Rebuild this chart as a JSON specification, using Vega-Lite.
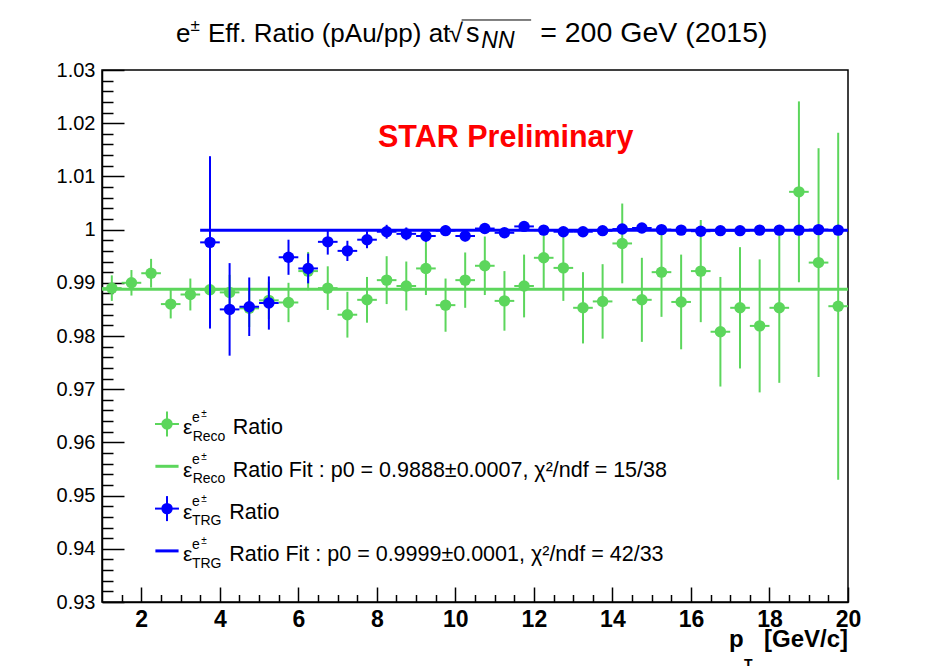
{
  "$schema": "https://vega.github.io/schema/vega-lite/v6.json",
  "width": 746,
  "height": 532,
  "autosize": {"type": "none"},
  "padding": {"left": 102, "top": 70, "right": 80, "bottom": 64},
  "background": "white",
  "config": {
    "font": "Liberation Sans",
    "view": {"stroke": "#000", "strokeWidth": 1.5},
    "text": {"font": "Liberation Sans", "color": "#000", "baseline": "alphabetic", "align": "left"}
  },
  "datasets": {
    "reco": [
      {"pt": 1.25, "ratio": 0.9890, "err": 0.0024, "dpt": 0.25},
      {"pt": 1.75, "ratio": 0.9900, "err": 0.0024, "dpt": 0.25},
      {"pt": 2.25, "ratio": 0.9918, "err": 0.0027, "dpt": 0.25},
      {"pt": 2.75, "ratio": 0.9860, "err": 0.0027, "dpt": 0.25},
      {"pt": 3.25, "ratio": 0.9878, "err": 0.0030, "dpt": 0.25},
      {"pt": 3.75, "ratio": 0.9887, "err": 0.0031, "dpt": 0.25},
      {"pt": 4.25, "ratio": 0.9882, "err": 0.0033, "dpt": 0.25},
      {"pt": 4.75, "ratio": 0.9852, "err": 0.0035, "dpt": 0.25},
      {"pt": 5.25, "ratio": 0.9867, "err": 0.0035, "dpt": 0.25},
      {"pt": 5.75, "ratio": 0.9863, "err": 0.0037, "dpt": 0.25},
      {"pt": 6.25, "ratio": 0.9922, "err": 0.0036, "dpt": 0.25},
      {"pt": 6.75, "ratio": 0.9890, "err": 0.0041, "dpt": 0.25},
      {"pt": 7.25, "ratio": 0.9840, "err": 0.0043, "dpt": 0.25},
      {"pt": 7.75, "ratio": 0.9868, "err": 0.0043, "dpt": 0.25},
      {"pt": 8.25, "ratio": 0.9905, "err": 0.0045, "dpt": 0.25},
      {"pt": 8.75, "ratio": 0.9894, "err": 0.0046, "dpt": 0.25},
      {"pt": 9.25, "ratio": 0.9927, "err": 0.0050, "dpt": 0.25},
      {"pt": 9.75, "ratio": 0.9858, "err": 0.0050, "dpt": 0.25},
      {"pt": 10.25, "ratio": 0.9905, "err": 0.0052, "dpt": 0.25},
      {"pt": 10.75, "ratio": 0.9932, "err": 0.0055, "dpt": 0.25},
      {"pt": 11.25, "ratio": 0.9866, "err": 0.0056, "dpt": 0.25},
      {"pt": 11.75, "ratio": 0.9894, "err": 0.0059, "dpt": 0.25},
      {"pt": 12.25, "ratio": 0.9947, "err": 0.0060, "dpt": 0.25},
      {"pt": 12.75, "ratio": 0.9928, "err": 0.0062, "dpt": 0.25},
      {"pt": 13.25, "ratio": 0.9853, "err": 0.0067, "dpt": 0.25},
      {"pt": 13.75, "ratio": 0.9865, "err": 0.0070, "dpt": 0.25},
      {"pt": 14.25, "ratio": 0.9974, "err": 0.0075, "dpt": 0.25},
      {"pt": 14.75, "ratio": 0.9868, "err": 0.0079, "dpt": 0.25},
      {"pt": 15.25, "ratio": 0.9920, "err": 0.0084, "dpt": 0.25},
      {"pt": 15.75, "ratio": 0.9864, "err": 0.0089, "dpt": 0.25},
      {"pt": 16.25, "ratio": 0.9922, "err": 0.0096, "dpt": 0.25},
      {"pt": 16.75, "ratio": 0.9808, "err": 0.0103, "dpt": 0.25},
      {"pt": 17.25, "ratio": 0.9853, "err": 0.0114, "dpt": 0.25},
      {"pt": 17.75, "ratio": 0.9819, "err": 0.0125, "dpt": 0.25},
      {"pt": 18.25, "ratio": 0.9853, "err": 0.0141, "dpt": 0.25},
      {"pt": 18.75, "ratio": 1.0071, "err": 0.0170, "dpt": 0.25},
      {"pt": 19.25, "ratio": 0.9938, "err": 0.0215, "dpt": 0.25},
      {"pt": 19.75, "ratio": 0.9856, "err": 0.0326, "dpt": 0.25}
    ],
    "trg": [
      {"pt": 3.75, "ratio": 0.9976, "err": 0.0162, "dpt": 0.25},
      {"pt": 4.25, "ratio": 0.9850, "err": 0.0087, "dpt": 0.25},
      {"pt": 4.75, "ratio": 0.9855, "err": 0.0055, "dpt": 0.25},
      {"pt": 5.25, "ratio": 0.9862, "err": 0.0050, "dpt": 0.25},
      {"pt": 5.75, "ratio": 0.9948, "err": 0.0033, "dpt": 0.25},
      {"pt": 6.25, "ratio": 0.9927, "err": 0.0028, "dpt": 0.25},
      {"pt": 6.75, "ratio": 0.9977, "err": 0.0024, "dpt": 0.25},
      {"pt": 7.25, "ratio": 0.9960, "err": 0.0019, "dpt": 0.25},
      {"pt": 7.75, "ratio": 0.9981, "err": 0.0016, "dpt": 0.25},
      {"pt": 8.25, "ratio": 0.9996, "err": 0.0013, "dpt": 0.25},
      {"pt": 8.75, "ratio": 0.9992, "err": 0.0012, "dpt": 0.25},
      {"pt": 9.25, "ratio": 0.9988, "err": 0.0011, "dpt": 0.25},
      {"pt": 9.75, "ratio": 0.9998, "err": 0.0010, "dpt": 0.25},
      {"pt": 10.25, "ratio": 0.9988, "err": 0.0010, "dpt": 0.25},
      {"pt": 10.75, "ratio": 1.0002, "err": 0.0010, "dpt": 0.25},
      {"pt": 11.25, "ratio": 0.9994, "err": 0.0009, "dpt": 0.25},
      {"pt": 11.75, "ratio": 1.0006, "err": 0.0008, "dpt": 0.25},
      {"pt": 12.25, "ratio": 0.9999, "err": 0.0008, "dpt": 0.25},
      {"pt": 12.75, "ratio": 0.9996, "err": 0.0007, "dpt": 0.25},
      {"pt": 13.25, "ratio": 0.9996, "err": 0.0007, "dpt": 0.25},
      {"pt": 13.75, "ratio": 0.9998, "err": 0.0006, "dpt": 0.25},
      {"pt": 14.25, "ratio": 1.0001, "err": 0.0006, "dpt": 0.25},
      {"pt": 14.75, "ratio": 1.0003, "err": 0.0006, "dpt": 0.25},
      {"pt": 15.25, "ratio": 1.0000, "err": 0.0005, "dpt": 0.25},
      {"pt": 15.75, "ratio": 0.9999, "err": 0.0005, "dpt": 0.25},
      {"pt": 16.25, "ratio": 0.9997, "err": 0.0005, "dpt": 0.25},
      {"pt": 16.75, "ratio": 0.9998, "err": 0.0005, "dpt": 0.25},
      {"pt": 17.25, "ratio": 0.9998, "err": 0.0004, "dpt": 0.25},
      {"pt": 17.75, "ratio": 0.9999, "err": 0.0004, "dpt": 0.25},
      {"pt": 18.25, "ratio": 0.9999, "err": 0.0004, "dpt": 0.25},
      {"pt": 18.75, "ratio": 0.9999, "err": 0.0004, "dpt": 0.25},
      {"pt": 19.25, "ratio": 1.0000, "err": 0.0004, "dpt": 0.25},
      {"pt": 19.75, "ratio": 0.9999, "err": 0.0004, "dpt": 0.25}
    ],
    "fits": [
      {"fit": "Reco", "p0": 0.9888, "lo": 1.0, "hi": 20.0},
      {"fit": "TRG", "p0": 0.9999, "lo": 3.5, "hi": 20.0}
    ]
  },
  "resolve": {"axis": {"x": "independent", "y": "independent"}},
  "layer": [
    {
      "data": {"name": "reco"},
      "mark": {"type": "errorbar", "color": "#5cd65c", "thickness": 2},
      "encoding": {
        "x": {"field": "pt", "type": "quantitative",
              "scale": {"domain": [1, 20], "nice": false, "zero": false},
              "axis": {"orient": "bottom", "values": [2, 4, 6, 8, 10, 12, 14, 16, 18, 20], "format": "d",
                       "ticks": false, "tickSize": 0, "grid": false, "title": null,
                       "domain": true, "domainColor": "#000", "domainWidth": 1.5,
                       "labelFont": "Liberation Sans", "labelFontSize": 23, "labelFontWeight": "bold",
                       "labelColor": "#000", "labelPadding": 6, "labelOverlap": false, "labelFlush": false}},
        "y": {"field": "ratio", "type": "quantitative",
              "scale": {"domain": [0.93, 1.03], "nice": false, "zero": false},
              "axis": {"orient": "left", "values": [0.93, 0.94, 0.95, 0.96, 0.97, 0.98, 0.99, 1.0, 1.01, 1.02, 1.03],
                       "format": ".3~g", "ticks": false, "tickSize": 0, "grid": false, "title": null,
                       "domain": true, "domainColor": "#000", "domainWidth": 1.5,
                       "labelFont": "Liberation Sans", "labelFontSize": 20, "labelColor": "#000",
                       "labelPadding": 7, "labelOverlap": false, "labelFlush": false}},
        "yError": {"field": "err"}
      }
    },
    {
      "data": {"name": "reco"},
      "mark": {"type": "errorbar", "color": "#5cd65c", "thickness": 2},
      "encoding": {
        "x": {"field": "pt", "type": "quantitative",
              "axis": {"orient": "bottom", "values": [2, 4, 6, 8, 10, 12, 14, 16, 18, 20],
                       "labels": false, "domain": false, "grid": false, "title": null,
                       "ticks": true, "tickSize": -15, "tickColor": "#000", "tickWidth": 1.5}},
        "xError": {"field": "dpt"},
        "y": {"field": "ratio", "type": "quantitative",
              "axis": {"orient": "left", "values": [0.93, 0.94, 0.95, 0.96, 0.97, 0.98, 0.99, 1.0, 1.01, 1.02, 1.03],
                       "labels": false, "domain": false, "grid": false, "title": null,
                       "ticks": true, "tickSize": -22, "tickColor": "#000", "tickWidth": 1.5}}
      }
    },
    {
      "data": {"name": "reco"},
      "mark": {"type": "circle", "color": "#5cd65c", "opacity": 1, "size": 130},
      "encoding": {
        "x": {"field": "pt", "type": "quantitative",
              "axis": {"orient": "bottom",
                       "values": [1.5, 2.5, 3, 3.5, 4.5, 5, 5.5, 6.5, 7, 7.5, 8.5, 9, 9.5, 10.5, 11, 11.5, 12.5, 13, 13.5, 14.5, 15, 15.5, 16.5, 17, 17.5, 18.5, 19, 19.5],
                       "labels": false, "domain": false, "grid": false, "title": null,
                       "ticks": true, "tickSize": -7.5, "tickColor": "#000", "tickWidth": 1.5}},
        "y": {"field": "ratio", "type": "quantitative",
              "axis": {"orient": "left",
                       "values": [0.932, 0.934, 0.936, 0.938, 0.942, 0.944, 0.946, 0.948, 0.952, 0.954, 0.956, 0.958, 0.962, 0.964, 0.966, 0.968, 0.972, 0.974, 0.976, 0.978, 0.982, 0.984, 0.986, 0.988, 0.992, 0.994, 0.996, 0.998, 1.002, 1.004, 1.006, 1.008, 1.012, 1.014, 1.016, 1.018, 1.022, 1.024, 1.026, 1.028],
                       "labels": false, "domain": false, "grid": false, "title": null,
                       "ticks": true, "tickSize": -11, "tickColor": "#000", "tickWidth": 1.5}}
      }
    },
    {
      "data": {"name": "fits"},
      "transform": [{"filter": "datum.fit == 'Reco'"}],
      "mark": {"type": "rule", "color": "#5cd65c", "strokeWidth": 3},
      "encoding": {
        "x": {"field": "lo", "type": "quantitative", "axis": null},
        "x2": {"field": "hi"},
        "y": {"field": "p0", "type": "quantitative", "axis": null}
      }
    },
    {
      "data": {"name": "trg"},
      "mark": {"type": "errorbar", "color": "#0000ff", "thickness": 2},
      "encoding": {
        "x": {"field": "pt", "type": "quantitative", "axis": null},
        "y": {"field": "ratio", "type": "quantitative", "axis": null},
        "yError": {"field": "err"}
      }
    },
    {
      "data": {"name": "trg"},
      "mark": {"type": "errorbar", "color": "#0000ff", "thickness": 2},
      "encoding": {
        "x": {"field": "pt", "type": "quantitative", "axis": null},
        "xError": {"field": "dpt"},
        "y": {"field": "ratio", "type": "quantitative", "axis": null}
      }
    },
    {
      "data": {"name": "trg"},
      "mark": {"type": "circle", "color": "#0000ff", "opacity": 1, "size": 130},
      "encoding": {
        "x": {"field": "pt", "type": "quantitative", "axis": null},
        "y": {"field": "ratio", "type": "quantitative", "axis": null}
      }
    },
    {
      "data": {"name": "fits"},
      "transform": [{"filter": "datum.fit == 'TRG'"}],
      "mark": {"type": "rule", "color": "#0000ff", "strokeWidth": 3},
      "encoding": {
        "x": {"field": "lo", "type": "quantitative", "axis": null},
        "x2": {"field": "hi"},
        "y": {"field": "p0", "type": "quantitative", "axis": null}
      }
    },
    {
      "data": {"values": [{}]},
      "mark": {"type": "rule", "color": "#5cd65c", "strokeWidth": 2},
      "encoding": {
        "x": {"datum": 2.656, "type": "quantitative", "axis": null},
        "y": {"datum": 0.96111, "type": "quantitative", "axis": null},
        "y2": {"datum": 0.96581}
      }
    },
    {
      "data": {"values": [{}]},
      "mark": {"type": "rule", "color": "#5cd65c", "strokeWidth": 2},
      "encoding": {
        "x": {"datum": 2.35, "type": "quantitative", "axis": null},
        "x2": {"datum": 2.96},
        "y": {"datum": 0.963459, "type": "quantitative", "axis": null}
      }
    },
    {
      "data": {"values": [{}]},
      "mark": {"type": "circle", "color": "#5cd65c", "opacity": 1, "size": 130},
      "encoding": {
        "x": {"datum": 2.656, "type": "quantitative", "axis": null},
        "y": {"datum": 0.963459, "type": "quantitative", "axis": null}
      }
    },
    {
      "data": {"values": [{}]},
      "mark": {"type": "rule", "color": "#5cd65c", "strokeWidth": 3},
      "encoding": {
        "x": {"datum": 2.36, "type": "quantitative", "axis": null},
        "x2": {"datum": 2.95},
        "y": {"datum": 0.955508, "type": "quantitative", "axis": null}
      }
    },
    {
      "data": {"values": [{}]},
      "mark": {"type": "rule", "color": "#0000ff", "strokeWidth": 2},
      "encoding": {
        "x": {"datum": 2.656, "type": "quantitative", "axis": null},
        "y": {"datum": 0.945206, "type": "quantitative", "axis": null},
        "y2": {"datum": 0.949906}
      }
    },
    {
      "data": {"values": [{}]},
      "mark": {"type": "rule", "color": "#0000ff", "strokeWidth": 2},
      "encoding": {
        "x": {"datum": 2.35, "type": "quantitative", "axis": null},
        "x2": {"datum": 2.96},
        "y": {"datum": 0.947556, "type": "quantitative", "axis": null}
      }
    },
    {
      "data": {"values": [{}]},
      "mark": {"type": "circle", "color": "#0000ff", "opacity": 1, "size": 130},
      "encoding": {
        "x": {"datum": 2.656, "type": "quantitative", "axis": null},
        "y": {"datum": 0.947556, "type": "quantitative", "axis": null}
      }
    },
    {
      "data": {"values": [{}]},
      "mark": {"type": "rule", "color": "#0000ff", "strokeWidth": 3},
      "encoding": {
        "x": {"datum": 2.36, "type": "quantitative", "axis": null},
        "x2": {"datum": 2.95},
        "y": {"datum": 0.939605, "type": "quantitative", "axis": null}
      }
    },
    {
      "data": {"values": [{}]},
      "mark": {"type": "text", "text": ["ε", "ε", "ε", "ε"], "fontSize": 21, "lineHeight": 42.3},
      "encoding": {
        "x": {"datum": 3.063, "type": "quantitative", "axis": null},
        "y": {"datum": 0.961523, "type": "quantitative", "axis": null}
      }
    },
    {
      "data": {"values": [{}]},
      "mark": {"type": "text", "text": ["e", "e", "e", "e"], "fontSize": 14, "lineHeight": 42.3},
      "encoding": {
        "x": {"datum": 3.292, "type": "quantitative", "axis": null},
        "y": {"datum": 0.963891, "type": "quantitative", "axis": null}
      }
    },
    {
      "data": {"values": [{}]},
      "mark": {"type": "text", "text": ["±", "±", "±", "±"], "fontSize": 10, "lineHeight": 42.3},
      "encoding": {
        "x": {"datum": 3.529, "type": "quantitative", "axis": null},
        "y": {"datum": 0.964718, "type": "quantitative", "axis": null}
      }
    },
    {
      "data": {"values": [{}]},
      "mark": {"type": "text", "text": ["Reco", "Reco"], "fontSize": 14, "lineHeight": 42.3},
      "encoding": {
        "x": {"datum": 3.31, "type": "quantitative", "axis": null},
        "y": {"datum": 0.96032, "type": "quantitative", "axis": null}
      }
    },
    {
      "data": {"values": [{}]},
      "mark": {"type": "text", "text": ["TRG", "TRG"], "fontSize": 14, "lineHeight": 42.3},
      "encoding": {
        "x": {"datum": 3.29, "type": "quantitative", "axis": null},
        "y": {"datum": 0.944417, "type": "quantitative", "axis": null}
      }
    },
    {
      "data": {"values": [{}]},
      "mark": {"type": "text", "text": ["Ratio", "Ratio Fit : p0 = 0.9888±0.0007, χ²/ndf = 15/38"], "fontSize": 21.5, "lineHeight": 42.3},
      "encoding": {
        "x": {"datum": 4.329, "type": "quantitative", "axis": null},
        "y": {"datum": 0.961523, "type": "quantitative", "axis": null}
      }
    },
    {
      "data": {"values": [{}]},
      "mark": {"type": "text", "text": ["Ratio", "Ratio Fit : p0 = 0.9999±0.0001, χ²/ndf = 42/33"], "fontSize": 21.5, "lineHeight": 42.3},
      "encoding": {
        "x": {"datum": 4.242, "type": "quantitative", "axis": null},
        "y": {"datum": 0.94562, "type": "quantitative", "axis": null}
      }
    },
    {
      "data": {"values": [{}]},
      "mark": {"type": "text", "text": "STAR Preliminary", "fontSize": 30.5, "fontWeight": "bold", "color": "#ff0000"},
      "encoding": {
        "x": {"datum": 8.03, "type": "quantitative", "axis": null},
        "y": {"datum": 1.01547, "type": "quantitative", "axis": null}
      }
    },
    {
      "data": {"values": [{}]},
      "mark": {"type": "text", "text": "p", "fontSize": 24, "fontWeight": "bold"},
      "encoding": {
        "x": {"datum": 16.97, "type": "quantitative", "axis": null},
        "y": {"datum": 0.921598, "type": "quantitative", "axis": null}
      }
    },
    {
      "data": {"values": [{}]},
      "mark": {"type": "text", "text": "T", "fontSize": 14, "fontWeight": "bold"},
      "encoding": {
        "x": {"datum": 17.35, "type": "quantitative", "axis": null},
        "y": {"datum": 0.91733, "type": "quantitative", "axis": null}
      }
    },
    {
      "data": {"values": [{}]},
      "mark": {"type": "text", "text": "[GeV/c]", "fontSize": 24, "fontWeight": "bold", "align": "right"},
      "encoding": {
        "x": {"datum": 20, "type": "quantitative", "axis": null},
        "y": {"datum": 0.921598, "type": "quantitative", "axis": null}
      }
    },
    {
      "data": {"values": [{}]},
      "mark": {"type": "text", "text": "e", "fontSize": 26},
      "encoding": {
        "x": {"datum": 2.885, "type": "quantitative", "axis": null},
        "y": {"datum": 1.035263, "type": "quantitative", "axis": null}
      }
    },
    {
      "data": {"values": [{}]},
      "mark": {"type": "text", "text": "±", "fontSize": 17},
      "encoding": {
        "x": {"datum": 3.254, "type": "quantitative", "axis": null},
        "y": {"datum": 1.037331, "type": "quantitative", "axis": null}
      }
    },
    {
      "data": {"values": [{}]},
      "mark": {"type": "text", "text": "Eff. Ratio (pAu/pp) at", "fontSize": 26},
      "encoding": {
        "x": {"datum": 3.7, "type": "quantitative", "axis": null},
        "y": {"datum": 1.035263, "type": "quantitative", "axis": null}
      }
    },
    {
      "data": {"values": [{}]},
      "mark": {"type": "text", "text": "√", "fontSize": 26},
      "encoding": {
        "x": {"datum": 9.83, "type": "quantitative", "axis": null},
        "y": {"datum": 1.035263, "type": "quantitative", "axis": null}
      }
    },
    {
      "data": {"values": [{}]},
      "mark": {"type": "rule", "color": "#000", "strokeWidth": 1},
      "encoding": {
        "x": {"datum": 10.16, "type": "quantitative", "axis": null},
        "x2": {"datum": 11.93},
        "y": {"datum": 1.0394, "type": "quantitative", "axis": null}
      }
    },
    {
      "data": {"values": [{}]},
      "mark": {"type": "text", "text": "s", "fontSize": 27},
      "encoding": {
        "x": {"datum": 10.27, "type": "quantitative", "axis": null},
        "y": {"datum": 1.035263, "type": "quantitative", "axis": null}
      }
    },
    {
      "data": {"values": [{}]},
      "mark": {"type": "text", "text": "NN", "fontSize": 23, "fontStyle": "italic"},
      "encoding": {
        "x": {"datum": 10.66, "type": "quantitative", "axis": null},
        "y": {"datum": 1.034135, "type": "quantitative", "axis": null}
      }
    },
    {
      "data": {"values": [{}]},
      "mark": {"type": "text", "text": "= 200 GeV (2015)", "fontSize": 28.5},
      "encoding": {
        "x": {"datum": 12.16, "type": "quantitative", "axis": null},
        "y": {"datum": 1.035263, "type": "quantitative", "axis": null}
      }
    }
  ]
}
